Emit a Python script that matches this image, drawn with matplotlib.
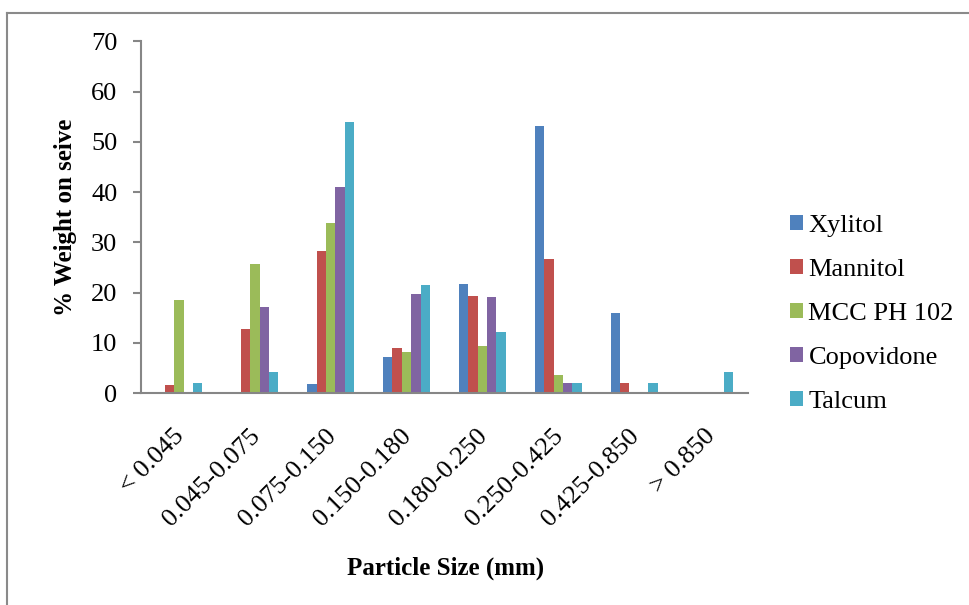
import numpy as np
import matplotlib.pyplot as plt
import matplotlib.transforms as mtransforms
from matplotlib.lines import Line2D

plt.rcParams["font.family"] = ["Liberation Serif", "DejaVu Serif"]

sizes = ["< 0.045", "0.045-0.075", "0.075-0.150", "0.150-0.180",
         "0.180-0.250", "0.250-0.425", "0.425-0.850", "> 0.850"]

xylitol = [0, 0, 1.7, 7.2, 21.7, 53.1, 16.0, 0]
mannitol = [1.5, 12.8, 28.3, 9.0, 19.4, 26.7, 2.0, 0]
mcc = [18.5, 25.7, 33.9, 8.2, 9.4, 3.6, 0.3, 0]
copovidone = [0, 17.2, 41.0, 19.7, 19.2, 2.0, 0.3, 0.3]
talcum = [1.9, 4.2, 53.9, 21.5, 12.2, 2.0, 1.9, 4.2]

series = [
    ("Xylitol", xylitol, "#4F81BD"),
    ("Mannitol", mannitol, "#C0504D"),
    ("MCC PH 102", mcc, "#9BBB59"),
    ("Copovidone", copovidone, "#8064A2"),
    ("Talcum", talcum, "#4BACC6"),
]

fig = plt.figure(figsize=(9.7, 6.05), dpi=100)
ax = fig.add_axes([0.1454, 0.3504, 0.6256, 0.5813])

x = np.arange(len(sizes))
w = 0.124
for i, (name, vals, color) in enumerate(series):
    ax.bar(x + (i - 2) * w, vals, width=w, color=color, label=name, zorder=2)

ax.set_xlim(-0.5, len(sizes) - 0.5)
ax.set_ylim(0, 70)
ax.set_yticks(range(0, 71, 10))
ax.set_xticks(x)
ax.set_xticklabels(sizes, rotation=45, ha="right", rotation_mode="anchor")

ax.tick_params(axis="y", labelsize=19, length=6, width=1.5, color="#868686", pad=11)
ax.tick_params(axis="x", labelsize=19, length=0, pad=23)

# nudge the slanted category labels a little to the left
shift = mtransforms.ScaledTranslation(-6 / 100, 0, fig.dpi_scale_trans)
for lbl in ax.get_xticklabels():
    lbl.set_transform(lbl.get_transform() + shift)

for side in ["top", "right"]:
    ax.spines[side].set_visible(False)
for side in ["left", "bottom"]:
    ax.spines[side].set_color("#868686")
    ax.spines[side].set_linewidth(1.5)

ax.set_ylabel("% Weight on seive", fontsize=18, fontweight="bold", labelpad=10)
fig.text(0.459, 0.061, "Particle Size (mm)", fontsize=18, fontweight="bold",
         ha="center", va="center")

fig.legend(loc="center left", bbox_to_anchor=(0.8144, 0.481), frameon=False,
           fontsize=19, handlelength=0.5, handleheight=0.5, handletextpad=0.2,
           labelspacing=0.83, borderpad=0, borderaxespad=0)

# thin grey frame around the chart area
fig.add_artist(Line2D([0.0072, 1.0], [0.9785, 0.9785], color="#8a8a8a", lw=1.5))
fig.add_artist(Line2D([0.0072, 0.0072], [0.0, 0.9785], color="#8a8a8a", lw=1.5))

fig.savefig("out.png", dpi=100)
